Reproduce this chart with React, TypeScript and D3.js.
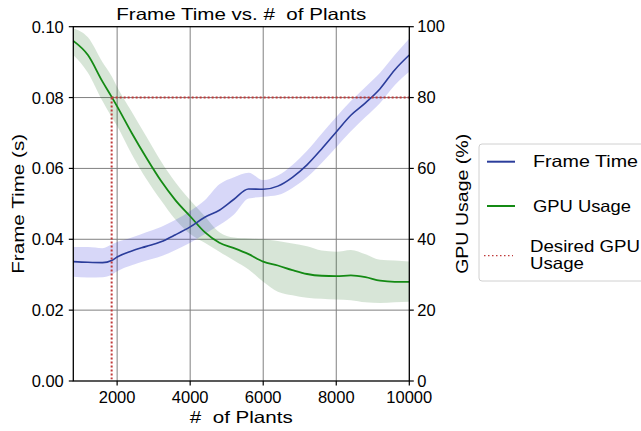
import React from "react";
import * as d3 from "d3";

const plants = [800, 1200, 1600, 1850, 2000, 2400, 2800, 3200, 3600, 4000, 4400, 4800, 5200, 5600, 6000, 6400, 6800, 7200, 7600, 8000, 8400, 8800, 9200, 9600, 10000];

const frameTime = [0.0337, 0.0335, 0.0334, 0.0340, 0.0350, 0.0367, 0.0380, 0.0393, 0.0413, 0.0435, 0.0462, 0.0482, 0.0513, 0.0542, 0.0541, 0.0550, 0.0575, 0.0610, 0.0655, 0.0703, 0.0750, 0.0785, 0.0825, 0.0878, 0.0920];
const frameTimeUpper = [0.0378, 0.0378, 0.0375, 0.0385, 0.0392, 0.0405, 0.0420, 0.0435, 0.0455, 0.0480, 0.0510, 0.0555, 0.0575, 0.0588, 0.0567, 0.0580, 0.0610, 0.0650, 0.0698, 0.0745, 0.0790, 0.0830, 0.0870, 0.0920, 0.0967];
const frameTimeLower = [0.0294, 0.0292, 0.0293, 0.0300, 0.0310, 0.0327, 0.0340, 0.0352, 0.0370, 0.0390, 0.0415, 0.0440, 0.0470, 0.0515, 0.0520, 0.0525, 0.0545, 0.0575, 0.0615, 0.0660, 0.0705, 0.0745, 0.0785, 0.0835, 0.0873];

const gpuUsage = [96.0, 92.0, 84.5, 80.2, 77.5, 70.0, 63.0, 56.5, 51.0, 46.5, 42.0, 39.0, 37.5, 35.8, 33.7, 32.6, 31.3, 30.2, 29.7, 29.6, 29.8, 29.3, 28.3, 28.0, 28.0];
const gpuUpper = [99.5, 97, 90, 86, 83, 76, 69, 62, 56, 51, 46.5, 42, 40.5, 40.2, 40, 39.5, 38.8, 38, 36.8, 36.5, 37, 35.8, 34.2, 34, 33.7];
const gpuLower = [92, 87, 79, 74.5, 72, 64, 57, 51, 45.5, 41.5, 39, 36.5, 34, 31.5, 28, 25.2, 24.2, 23.5, 23.2, 23, 22.8, 22.2, 22, 22.2, 22.4];

const desiredPlants = 1850;
const desiredGpu = 80;

const xTicks = [2000, 4000, 6000, 8000, 10000];
const leftTicks = [0, 0.02, 0.04, 0.06, 0.08, 0.1];
const rightTicks = [0, 20, 40, 60, 80, 100];

const FONT = "'Liberation Sans', Arial, Helvetica, sans-serif";

export default function App() {
  const W = 641, H = 431;
  const x = d3.scaleLinear().domain([800, 10000]).range([73.3, 409.3]);
  const yL = d3.scaleLinear().domain([0, 0.1]).range([381, 26.7]);
  const yR = d3.scaleLinear().domain([0, 100]).range([381, 26.7]);

  const idx = plants.map((_, i) => i);
  const ftLine = d3.line<number>().x(i => x(plants[i])).y(i => yL(frameTime[i])).curve(d3.curveMonotoneX);
  const ftArea = d3.area<number>().x(i => x(plants[i])).y0(i => yL(frameTimeLower[i])).y1(i => yL(frameTimeUpper[i])).curve(d3.curveMonotoneX);
  const gLine = d3.line<number>().x(i => x(plants[i])).y(i => yR(gpuUsage[i])).curve(d3.curveMonotoneX);
  const gArea = d3.area<number>().x(i => x(plants[i])).y0(i => yR(gpuLower[i])).y1(i => yR(gpuUpper[i])).curve(d3.curveMonotoneX);

  const [x0, x1] = x.range();
  const [yb, yt] = yL.range();
  const blue = "#2b3d9b";
  const green = "#148a14";
  const red = "#c03a3a";
  const FS = 16.5;
  const stretch = { lengthAdjust: "spacingAndGlyphs" as const };

  return (
    <svg width={W} height={H} style={{ position: "absolute", left: 0, top: 0, background: "#fff" }} fontFamily={FONT}>
      <rect width={W} height={H} fill="#fff" />
      {/* grid */}
      {xTicks.filter(t => t < 10000).map(t => (
        <line key={"gx" + t} x1={x(t)} x2={x(t)} y1={yb} y2={yt} stroke="#808080" strokeWidth={1} />
      ))}
      {leftTicks.filter(t => t > 0 && t < 0.1).map(t => (
        <line key={"gy" + t} x1={x0} x2={x1} y1={yL(t)} y2={yL(t)} stroke="#808080" strokeWidth={1} />
      ))}
      {/* bands */}
      <path d={gArea(idx) || ""} fill="#1f6e1f" fillOpacity={0.18} />
      <path d={ftArea(idx) || ""} fill="#2020d8" fillOpacity={0.18} />
      {/* lines */}
      <path d={gLine(idx) || ""} fill="none" stroke={green} strokeWidth={1.8} />
      <path d={ftLine(idx) || ""} fill="none" stroke={blue} strokeWidth={1.6} />
      {/* desired */}
      <line x1={x(desiredPlants)} x2={x1} y1={yR(desiredGpu)} y2={yR(desiredGpu)} stroke={red} strokeWidth={2} strokeDasharray="2,2" />
      <line x1={x(desiredPlants)} x2={x(desiredPlants)} y1={yR(desiredGpu)} y2={yR(0.5)} stroke={red} strokeWidth={2} strokeDasharray="2,2" />
      {/* spines */}
      <rect x={x0} y={yt} width={x1 - x0} height={yb - yt} fill="none" stroke="#000" strokeWidth={1.3} />
      {/* left ticks */}
      {leftTicks.map(t => (
        <g key={"lt" + t}>
          <line x1={x0 - 4.5} x2={x0} y1={yL(t)} y2={yL(t)} stroke="#000" strokeWidth={1.2} />
          <text x={x0 - 9.5} y={yL(t)} dy="0.36em" textAnchor="end" fontSize={FS} fill="#000">{d3.format(".2f")(t)}</text>
        </g>
      ))}
      {rightTicks.map(t => (
        <g key={"rt" + t}>
          <line x1={x1} x2={x1 + 4.5} y1={yR(t)} y2={yR(t)} stroke="#000" strokeWidth={1.2} />
          <text x={x1 + 8} y={yR(t)} dy="0.34em" textAnchor="start" fontSize={FS} fill="#000">{t}</text>
        </g>
      ))}
      {xTicks.map(t => (
        <g key={"xt" + t}>
          <line x1={x(t)} x2={x(t)} y1={yb} y2={yb + 4.5} stroke="#000" strokeWidth={1.2} />
          <text x={x(t)} y={402.5} textAnchor="middle" fontSize={FS} fill="#000">{t}</text>
        </g>
      ))}
      {/* labels */}
      <text x={(x0 + x1) / 2} y={19.5} textAnchor="middle" fontSize={FS} fill="#000" textLength={250} {...stretch} style={{ whiteSpace: "pre" }}>{"Frame Time vs. #  of Plants"}</text>
      <text x={(x0 + x1) / 2} y={423} textAnchor="middle" fontSize={FS} fill="#000" textLength={103} {...stretch} style={{ whiteSpace: "pre" }}>{"#  of Plants"}</text>
      <text transform={`translate(24,${(yb + yt) / 2}) rotate(-90)`} textAnchor="middle" fontSize={FS} fill="#000" textLength={140} {...stretch}>Frame Time (s)</text>
      <text transform={`translate(468,${(yb + yt) / 2}) rotate(-90)`} textAnchor="middle" fontSize={FS} fill="#000" textLength={140} {...stretch}>GPU Usage (%)</text>
      {/* legend */}
      <rect x={479} y={144} width={180} height={137} rx={3} fill="#fff" stroke="#d0d0d0" strokeWidth={1} />
      <line x1={487} x2={515} y1={161.7} y2={161.7} stroke={blue} strokeWidth={2} />
      <text x={533} y={167} fontSize={FS} fill="#000" textLength={105} {...stretch}>Frame Time</text>
      <line x1={487} x2={515} y1={206} y2={206} stroke={green} strokeWidth={2} />
      <text x={533} y={212} fontSize={FS} fill="#000" textLength={98} {...stretch}>GPU Usage</text>
      <line x1={484} x2={513} y1={255.7} y2={255.7} stroke={red} strokeWidth={1.2} strokeDasharray="1.5,2.5" />
      <text x={530} y={251.5} fontSize={FS} fill="#000" textLength={110} {...stretch}>Desired GPU</text>
      <text x={530} y={268.5} fontSize={FS} fill="#000" textLength={54} {...stretch}>Usage</text>
    </svg>
  );
}
